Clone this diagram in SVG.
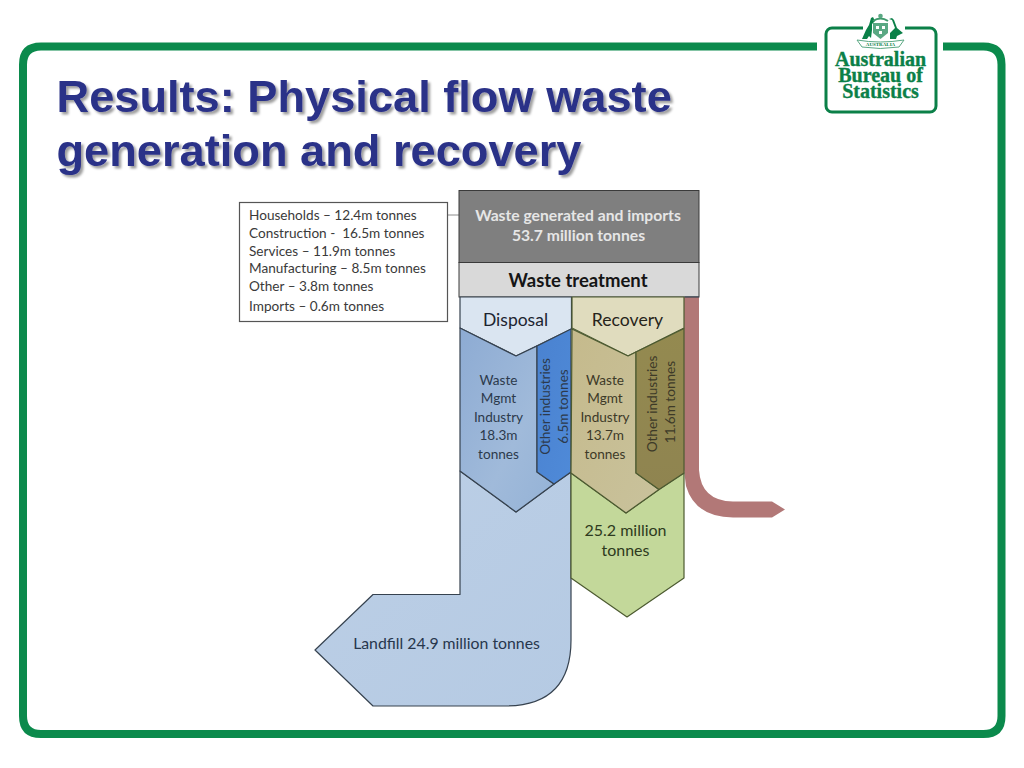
<svg xmlns="http://www.w3.org/2000/svg" width="1024" height="768" viewBox="0 0 1024 768">
<defs>
<filter id="shadow" x="-5%" y="-20%" width="110%" height="140%"><feDropShadow dx="2.5" dy="2.5" stdDeviation="1.2" flood-color="#000" flood-opacity=".38"/></filter>
<linearGradient id="gBlue" x1="0" y1="0" x2="1" y2="1"><stop offset="0" stop-color="#8dabd3"/><stop offset=".6" stop-color="#a0bada"/><stop offset="1" stop-color="#94b2d6"/></linearGradient>
<linearGradient id="gDeep" x1="0" y1="0" x2="1" y2="1"><stop offset="0" stop-color="#4a82d0"/><stop offset="1" stop-color="#4f8ad8"/></linearGradient>
<linearGradient id="gTan" x1="0" y1="0" x2="1" y2="1"><stop offset="0" stop-color="#c5ba8c"/><stop offset="1" stop-color="#c9c29c"/></linearGradient>
<linearGradient id="gOlive" x1="0" y1="0" x2="0" y2="1"><stop offset="0" stop-color="#948a50"/><stop offset="1" stop-color="#8f8450"/></linearGradient>
<linearGradient id="gLand" x1="0" y1="0" x2="1" y2="1"><stop offset="0" stop-color="#bccfe6"/><stop offset="1" stop-color="#b5cae3"/></linearGradient>
</defs>
<style>
.t{font-family:Lato,"Open Sans","Liberation Sans",sans-serif}
.title{font-family:"Liberation Sans",Arial,sans-serif;font-weight:700;font-size:45.200px;fill:#2b3188;filter:url(#shadow)}
.list{font-size:13.6px;fill:#3a3a3a;white-space:pre}
.flow{font-size:13.6px;fill:#2c3a4c;text-anchor:middle}
.flowt{font-size:13.6px;fill:#3d3a28;text-anchor:middle}
.logo{font-family:"Liberation Serif","Times New Roman",serif;font-weight:700;font-size:20px;fill:#0b8048;text-anchor:middle;stroke:#0b8048;stroke-width:.35}
.edge{stroke:#36424f;stroke-width:1.2;stroke-linejoin:round}
.edgeg{stroke:#4c5a30;stroke-width:1.2;stroke-linejoin:round}
.g{fill:#0b8048}
</style>
<rect width="1024" height="768" fill="#fff"/>

<g id="frame">
<path d="M817 46.500H41Q23 46.500 23 64.500V716Q23 734 41 734H983.500Q1001.500 734 1001.500 716V64.500Q1001.500 46.500 983.500 46.500H943" fill="none" stroke="#0b8a4c" stroke-width="8"/>
</g>

<g id="logo">
<rect x="826" y="28" width="110" height="84" rx="6" fill="#fff" stroke="#0b8048" stroke-width="3"/>
<path d="M863 25h42v8h-42z" fill="#fff"/>
<path class="g" d="M862 39 866 30 869 25 871 18 873 17 875 21 872 24 872 30 871 38 869 36 867 39Z"/>
<path class="g" d="M890 39 890 33 895 28 892 20 889 19 892 18 894 20 897 28 903 33 897 36 896 39Z"/>
<path d="M873 23h15v10l-7.500 6-7.500-6z" fill="#5aa883"/>
<path d="M876 26h3v3h-3zM882 26h3v3h-3zM879 31h3v3h-3z" fill="#fff"/>
<path d="M873 21q7.500-5 15 0" fill="none" stroke="#3f9a6c" stroke-width="2"/>
<circle cx="880.500" cy="16" r="2.300" fill="#5aa883"/>
<path d="M857 40Q880 44 904 40L899 47Q880 50 862 47Z" fill="#fff" stroke="#5aa883" stroke-width="1"/>
<text x="880.500" y="46" font-family="Liberation Serif,serif" font-size="5" font-weight="700" fill="#0b8048" text-anchor="middle">AUSTRALIA</text>
<text class="logo"><tspan x="880.500" y="66">Australian</tspan><tspan x="880.500" y="82">Bureau of</tspan><tspan x="880.500" y="98">Statistics</tspan></text>
</g>

<g id="title">
<text class="title" x="56.500" y="112">Results: Physical flow waste</text>
<text class="title" x="56.500" y="166">generation and recovery</text>
</g>

<g id="connectors">
<path d="M447 215H459" stroke="#8c8c8c" stroke-width="1" fill="none"/>
</g>

<g id="callout">
<rect x="239.500" y="202.500" width="208" height="119" fill="#fff" stroke="#555" stroke-width="1.200"/>
<text class="t list" x="249" y="220">Households – 12.4m tonnes</text>
<text class="t list" x="249" y="238">Construction -  16.5m tonnes</text>
<text class="t list" x="249" y="256">Services – 11.9m tonnes</text>
<text class="t list" x="249" y="273">Manufacturing – 8.5m tonnes</text>
<text class="t list" x="249" y="291">Other – 3.8m tonnes</text>
<text class="t list" x="249" y="311">Imports – 0.6m tonnes</text>
</g>

<g id="generated">
<rect x="459" y="190.500" width="240" height="72" fill="#7f7f7f" stroke="#3a3a3a" stroke-width="1"/>
<text class="t" x="578" y="221" font-size="15.700" font-weight="700" fill="#e6e6e6" text-anchor="middle">Waste generated and imports</text>
<text class="t" x="578.500" y="241" font-size="15.700" font-weight="700" fill="#e6e6e6" text-anchor="middle">53.7 million tonnes</text>
</g>

<g id="treatment">
<rect x="459" y="262.500" width="240" height="34.500" fill="#d9d9d9" stroke="#3a3a3a" stroke-width="1"/>
<text class="t" x="578" y="286.500" font-size="18.500" font-weight="700" fill="#151515" text-anchor="middle">Waste treatment</text>
</g>

<g id="red-flow">
<path d="M684 297H699V470Q701 501 733 501.500H772L785 509.500 772 517.500H733Q695 517 686 486L684 470Z" fill="#b27877"/>
<path d="M684.500 297H699" class="edge" fill="none"/>
</g>

<g id="landfill">
<path class="edge" d="M460 471V594.500H373L315 650 373 706H505Q571 706 571 640V472L554 484 516 512Z" fill="url(#gLand)"/>
<text class="t" x="446.500" y="649" font-size="15.800" fill="#27374d" text-anchor="middle">Landfill 24.9 million tonnes</text>
</g>

<g id="recovered">
<path class="edgeg" d="M571 473 626 513 659 489.500 684 473V578L627 617 571 578Z" fill="#c3d89a"/>
<text class="t" x="625.500" y="536" font-size="16" fill="#2e3a20" text-anchor="middle">25.2 million</text>
<text class="t" x="625.500" y="556" font-size="16" fill="#2e3a20" text-anchor="middle">tonnes</text>
</g>

<g id="disposal">
<path class="edge" d="M460 297H571.500V329L516 356 460 328Z" fill="#dae5f1"/>
<text class="t" x="515.500" y="326" font-size="17.500" fill="#1c2430" text-anchor="middle">Disposal</text>
</g>

<g id="recovery">
<path class="edgeg" d="M572 297H684V328L628 356 572 328Z" fill="#e0dcbe"/>
<text class="t" x="627.500" y="326" font-size="17.600" fill="#26241a" text-anchor="middle">Recovery</text>
</g>

<g id="disposal-mgmt">
<path class="edge" d="M460 328 516 356 537 346V472L554 484 516 512 460 471Z" fill="url(#gBlue)"/>
<text class="t flow" x="498.500" y="385">Waste</text>
<text class="t flow" x="498.500" y="403">Mgmt</text>
<text class="t flow" x="498.500" y="422">Industry</text>
<text class="t flow" x="498.500" y="440">18.3m</text>
<text class="t flow" x="498.500" y="459">tonnes</text>
</g>

<g id="disposal-other">
<path class="edge" d="M537 346 571 329V472L554 484 537 472Z" fill="url(#gDeep)"/>
<text class="t flow" transform="translate(550 406.500) rotate(-90)">Other industries</text>
<text class="t flow" transform="translate(568 406.500) rotate(-90)">6.5m tonnes</text>
</g>

<g id="recovery-mgmt">
<path class="edgeg" d="M572 329 628 356 636 352V473L659 489.500 626 513 571 473Z" fill="url(#gTan)"/>
<text class="t flowt" x="605" y="385">Waste</text>
<text class="t flowt" x="605" y="403">Mgmt</text>
<text class="t flowt" x="605" y="422">Industry</text>
<text class="t flowt" x="605" y="440">13.7m</text>
<text class="t flowt" x="605" y="459">tonnes</text>
</g>

<g id="recovery-other">
<path class="edgeg" d="M636 352 684 328.500V473L659 489.500 636 473Z" fill="url(#gOlive)"/>
<text class="t flowt" transform="translate(657 404) rotate(-90)">Other industries</text>
<text class="t flowt" transform="translate(675 402) rotate(-90)">11.6m tonnes</text>
</g>
</svg>
